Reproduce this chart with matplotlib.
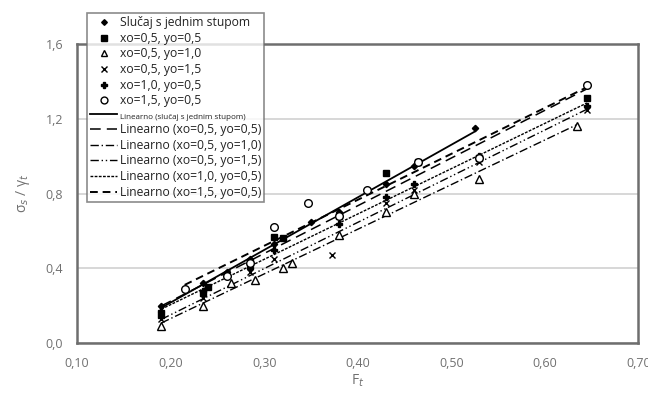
import numpy as np
from matplotlib import pyplot as plt
from matplotlib.ticker import FuncFormatter

plt.rcParams['font.family'] = ['Open Sans', 'DejaVu Sans']

# data
labels = ["Slučaj s jednim stupom", "xo=0,5, yo=0,5", "xo=0,5, yo=1,0",
          "xo=0,5, yo=1,5", "xo=1,0, yo=0,5", "xo=1,5, yo=0,5"]
trend_labels = ["Linearno (slučaj s jednim stupom)", "Linearno (xo=0,5, yo=0,5)",
                "Linearno (xo=0,5, yo=1,0)", "Linearno (xo=0,5, yo=1,5)",
                "Linearno (xo=1,0, yo=0,5)", "Linearno (xo=1,5, yo=0,5)"]

x_a = [0.19, 0.235, 0.26, 0.285, 0.31, 0.35, 0.38, 0.43, 0.46, 0.525]
y_a = [0.20, 0.32, 0.38, 0.45, 0.53, 0.65, 0.70, 0.85, 0.95, 1.15]
x_b = [0.19, 0.235, 0.24, 0.285, 0.31, 0.32, 0.38, 0.43, 0.465, 0.53, 0.645]
y_b = [0.15, 0.27, 0.30, 0.43, 0.57, 0.56, 0.68, 0.91, 0.97, 0.99, 1.31]
x_c = [0.19, 0.235, 0.265, 0.29, 0.32, 0.33, 0.38, 0.43, 0.46, 0.53, 0.635]
y_c = [0.09, 0.20, 0.32, 0.34, 0.40, 0.43, 0.58, 0.70, 0.80, 0.88, 1.16]
x_d = [0.19, 0.235, 0.285, 0.31, 0.372, 0.43, 0.46, 0.53, 0.645]
y_d = [0.13, 0.24, 0.38, 0.45, 0.47, 0.75, 0.82, 0.97, 1.25]
x_e = [0.19, 0.235, 0.285, 0.31, 0.38, 0.43, 0.46, 0.53, 0.645]
y_e = [0.17, 0.28, 0.40, 0.50, 0.64, 0.78, 0.85, 1.00, 1.27]
x_f = [0.215, 0.26, 0.285, 0.31, 0.347, 0.38, 0.41, 0.465, 0.53, 0.645]
y_f = [0.29, 0.36, 0.43, 0.62, 0.75, 0.68, 0.82, 0.97, 0.99, 1.38]

xs = [x_a, x_b, x_c, x_d, x_e, x_f]
ys = [y_a, y_b, y_c, y_d, y_e, y_f]
markers = ["D", "s", "^", "x", "P", "o"]
msizes = [3.2, 4.5, 5.5, 5, 4.5, 5.5]
mfaces = ["black", "black", "white", "black", "black", "white"]
dashes = [None, (7, 4), (6, 2, 1, 2), (6, 2, 1, 2, 1, 2), (2, 1), (4, 2.5)]
lwidths = [1.3, 1.1, 1.0, 1.0, 1.0, 1.4]

fig = plt.figure(figsize=(6.48, 3.98), dpi=100)
ax = fig.add_axes([0.119, 0.138, 0.866, 0.751])

handles_pts = []
handles_lin = []
for i in range(6):
    h, = ax.plot(xs[i], ys[i], linestyle="none", marker=markers[i], ms=msizes[i],
                 mfc=mfaces[i], mec="black", mew=1.0, color="black", zorder=4)
    handles_pts.append(h)
for i in range(6):
    k, b = np.polyfit(xs[i], ys[i], 1)
    xx = np.array([min(xs[i]), max(xs[i])])
    l, = ax.plot(xx, k * xx + b, color="black", lw=lwidths[i], zorder=3)
    if dashes[i] is not None:
        l.set_dashes(dashes[i])
    handles_lin.append(l)

ax.set_xlim(0.10, 0.70)
ax.set_ylim(0.0, 1.6)
ax.set_xticks(np.arange(0.10, 0.71, 0.10))
ax.set_yticks([0.0, 0.4, 0.8, 1.2, 1.6])
ax.xaxis.set_major_formatter(FuncFormatter(lambda v, p: f"{v:.2f}".replace(".", ",")))
ax.yaxis.set_major_formatter(FuncFormatter(lambda v, p: f"{v:.1f}".replace(".", ",")))
ax.grid(axis="y", color="#d4d4d4", lw=1.3)
ax.set_axisbelow(True)
for s in ax.spines.values():
    s.set_color("#6e6e6e")
    s.set_linewidth(1.8)
ax.tick_params(length=0, labelsize=9, colors="#707070", pad=10)

ax.set_xlabel("F$_t$", fontsize=10, color="#707070", labelpad=2)
ax.set_ylabel("σ$_s$ / γ$_t$", fontsize=10, color="#707070", labelpad=10)

leg = ax.legend(handles_pts + handles_lin, labels + trend_labels,
                loc="upper left", bbox_to_anchor=(0.018, 1.104), fontsize=8.7,
                frameon=True, fancybox=False, edgecolor="#6e6e6e",
                handlelength=2.2, handletextpad=0.25, labelspacing=0.22,
                borderpad=0.25, borderaxespad=0.0, markerscale=0.9)
leg.get_frame().set_linewidth(1.2)
leg.set_zorder(6)
leg.get_texts()[6].set_fontsize(5.8)
for t in leg.get_texts():
    t.set_color("#222222")

fig.savefig("out.png", dpi=100)
